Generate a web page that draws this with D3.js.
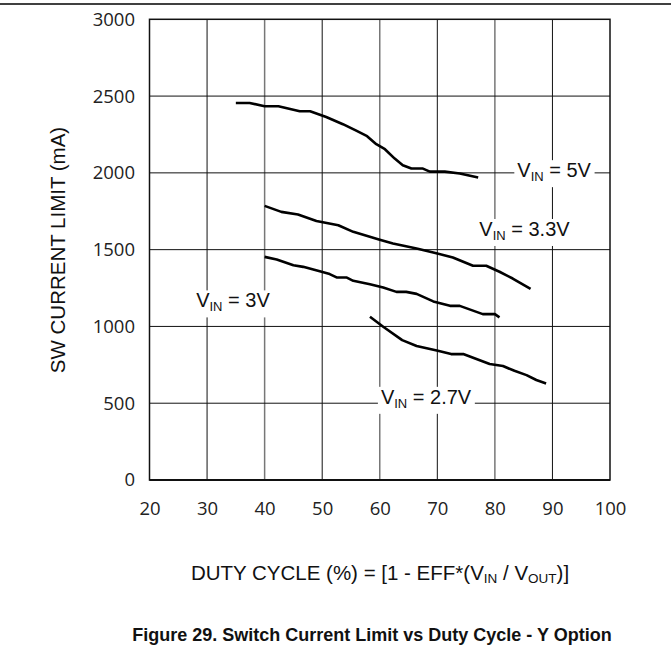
<!DOCTYPE html>
<html>
<head>
<meta charset="utf-8">
<script src="https://cdn.jsdelivr.net/npm/d3@7"></script>
<style>
  body { margin: 0; background: #fff; }
  svg { display: block; }
</style>
</head>
<body>
<svg id="chart"></svg>
<script>
  // curves: duty cycle (%) vs switch current limit (mA)
  const duty5 = [35, 37.4, 40, 42.4, 46.1, 47.9, 50.7, 53.6, 56, 57.8, 59.4, 60.9, 62.6, 64, 65.5, 67.5, 68.7, 71.3, 73.9, 77.1]
  const curr5 = [2455, 2455, 2434, 2434, 2401, 2401, 2364, 2317, 2273, 2239, 2187, 2154, 2093, 2050, 2028, 2028, 2008, 2008, 1996, 1970]
  const duty33 = [40, 42.9, 45.8, 49, 52.8, 55.4, 60, 62.3, 66.4, 69.3, 72.7, 76.2, 78.5, 80.8, 83.1, 86.2]
  const curr33 = [1785, 1746, 1729, 1687, 1659, 1616, 1565, 1540, 1508, 1482, 1449, 1395, 1395, 1356, 1312, 1245]
  const duty3 = [40, 42.1, 45, 46.7, 49.9, 51.3, 52.5, 54.2, 55.4, 58.3, 60.6, 62.9, 64.6, 66.4, 69.3, 72.2, 73.9, 77.9, 80, 80.8]
  const curr3 = [1453, 1436, 1399, 1388, 1356, 1341, 1319, 1319, 1297, 1275, 1254, 1225, 1225, 1212, 1163, 1134, 1134, 1080, 1080, 1059]
  const duty27 = [58.3, 60.6, 63.9, 66.4, 70.1, 72.4, 74.5, 79.1, 81.4, 83.4, 85.5, 87.2, 88.9]
  const curr27 = [1063, 998, 911, 873, 841, 820, 820, 755, 742, 711, 683, 651, 629]

  const xTicks = [20, 30, 40, 50, 60, 70, 80, 90, 100]
  const yTicks = [0, 500, 1000, 1500, 2000, 2500, 3000]

  // curve labels: text pieces and where they sit (data units, baseline left)
  const labelNames = ['5V', '3.3V', '3V', '2.7V']
  const labelDuty = [83.9, 77.3, 28.1, 60.2]
  const labelCurr = [1972, 1589, 1124, 496]

  var width = 671
  var height = 669
  var svg = d3.select('#chart').attr('width', width).attr('height', height)

  var x = d3.scaleLinear().domain([20, 100]).range([149.5, 610])
  var y = d3.scaleLinear().domain([0, 3000]).range([480, 19.3])

  // rule across the top of the page
  svg.append('line')
    .attr('x1', 0).attr('x2', width)
    .attr('y1', 4).attr('y2', 4)
    .attr('stroke', '#000').attr('stroke-width', 1.3)

  var grid = svg.append('g').attr('class', 'grid')
  grid.selectAll('line.v')
    .data(xTicks.slice(1, -1))
    .enter().append('line')
      .attr('class', 'v')
      .attr('x1', d => x(d)).attr('x2', d => x(d))
      .attr('y1', y(3000)).attr('y2', y(0))
      .attr('stroke', (d, i) => i % 2 ? '#777' : '#111')
      .attr('stroke-width', (d, i) => i % 2 ? 1.5 : 1)
  grid.selectAll('line.h')
    .data(yTicks.slice(1, -1))
    .enter().append('line')
      .attr('class', 'h')
      .attr('x1', x(20)).attr('x2', x(100))
      .attr('y1', d => y(d)).attr('y2', d => y(d))
      .attr('stroke', '#111').attr('stroke-width', 1)

  // plot frame
  svg.append('rect')
    .attr('x', x(20)).attr('y', y(3000))
    .attr('width', x(100) - x(20)).attr('height', y(0) - y(3000))
    .attr('fill', 'none').attr('stroke', '#111').attr('stroke-width', 1.5)
  svg.append('line')
    .attr('x1', x(20)).attr('x2', x(100))
    .attr('y1', y(0)).attr('y2', y(0))
    .attr('stroke', '#111').attr('stroke-width', 2)

  // axes, only for the tick labels
  var xAxis = svg.append('g')
    .attr('transform', 'translate(0,' + y(0) + ')')
    .call(d3.axisBottom(x).tickValues(xTicks).tickSize(0).tickPadding(21.5).tickFormat(d3.format('d')))
  var yAxis = svg.append('g')
    .attr('transform', 'translate(' + x(20) + ',0)')
    .call(d3.axisLeft(y).tickValues(yTicks).tickSize(0).tickPadding(14.5).tickFormat(d3.format('d')))
  ;[xAxis, yAxis].forEach(function (ax) {
    ax.select('.domain').remove()
    ax.selectAll('text')
      .attr('font-family', '"Open Sans", sans-serif')
      .attr('font-size', 18.5)
      .attr('fill', '#222')
  })

  // curves
  var series = [[duty5, curr5], [duty33, curr33], [duty3, curr3], [duty27, curr27]]
  var line = d3.line().x(d => x(d[0])).y(d => y(d[1]))
  svg.append('g')
    .selectAll('path')
    .data(series.map(s => s[0].map((d, i) => [d, s[1][i]])))
    .enter().append('path')
      .attr('d', line)
      .attr('fill', 'none')
      .attr('stroke', '#000')
      .attr('stroke-width', 2.6)
      .attr('stroke-linejoin', 'round')

  // curve labels with white boxes that cut the grid
  labelNames.forEach(function (name, i) {
    var g = svg.append('g')
    var t = g.append('text')
      .attr('x', x(labelDuty[i])).attr('y', y(labelCurr[i]))
      .attr('font-family', '"Liberation Sans", Arial, sans-serif')
      .attr('font-size', 20)
      .attr('fill', '#111')
    t.append('tspan').text('V')
    t.append('tspan').attr('dy', 4).attr('font-size', 13).text('IN')
    t.append('tspan').attr('dy', -4).text(' = ' + name)
    var b = t.node().getBBox()
    g.insert('rect', 'text')
      .attr('x', b.x - 3).attr('y', b.y + 1)
      .attr('width', b.width + 6).attr('height', b.height + 2)
      .attr('fill', '#fff')
  })

  // axis titles
  svg.append('text')
    .attr('transform', 'translate(65,250) rotate(-90)')
    .attr('text-anchor', 'middle')
    .attr('font-family', '"Liberation Sans", Arial, sans-serif')
    .attr('font-size', 20.5)
    .attr('fill', '#111')
    .text('SW CURRENT LIMIT (mA)')

  var xt = svg.append('text')
    .attr('x', 380).attr('y', 580)
    .attr('text-anchor', 'middle')
    .attr('font-family', '"Liberation Sans", Arial, sans-serif')
    .attr('font-size', 20.5)
    .attr('fill', '#111')
  xt.append('tspan').text('DUTY CYCLE (%) = [1 - EFF*(V')
  xt.append('tspan').attr('dy', 3).attr('font-size', 13.5).text('IN')
  xt.append('tspan').attr('dy', -3).text(' / V')
  xt.append('tspan').attr('dy', 3).attr('font-size', 13.5).text('OUT')
  xt.append('tspan').attr('dy', -3).text(')]')

  svg.append('text')
    .attr('x', 372).attr('y', 641)
    .attr('text-anchor', 'middle')
    .attr('font-family', '"Liberation Sans", Arial, sans-serif')
    .attr('font-size', 18)
    .attr('font-weight', 'bold')
    .attr('fill', '#111')
    .text('Figure 29. Switch Current Limit vs Duty Cycle - Y Option')
</script>
</body>
</html>
